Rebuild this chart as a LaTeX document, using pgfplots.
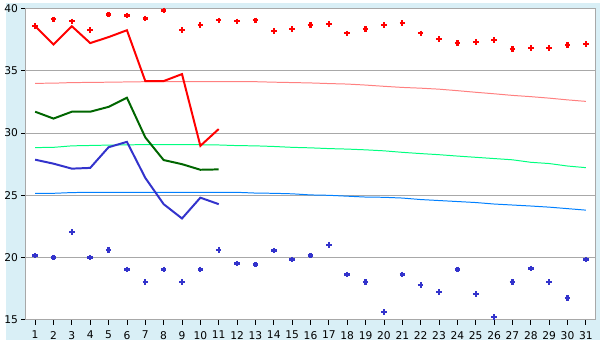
\documentclass[border=0pt]{standalone}
\usepackage{pgfplots}
\pgfplotsset{compat=1.18}
\usepackage{fontspec}
\setmainfont{DejaVu Sans}
\definecolor{bgc}{HTML}{D9EFF6}
\definecolor{axc}{HTML}{A8A8A8}
\definecolor{rmax}{HTML}{FF0000}
\definecolor{gmean}{HTML}{006600}
\definecolor{bmin}{HTML}{3333CC}
\definecolor{nmax}{HTML}{FF8080}
\definecolor{nmean}{HTML}{00FF80}
\definecolor{nmin}{HTML}{0080FF}
\begin{document}
\begin{tikzpicture}
\fill[bgc] (0,0) rectangle (450pt,255pt);
\begin{axis}[
  at={(15pt,15pt)}, anchor=south west,
  scale only axis, width=431.25pt, height=236pt,
  xmin=0.5, xmax=31.5, ymin=15, ymax=40,
  xtick={1,...,31}, ytick={15,20,...,40},
  axis background/.style={fill=white},
  axis line style={draw=axc, line width=0.75pt},
  ymajorgrids, major grid style={draw=axc, line width=0.75pt},
  tick align=outside, major tick length=3.5pt,
  every tick/.style={draw=black, line width=0.6pt},
  xtick pos=bottom, ytick pos=left,
  /pgf/number format/assume math mode=true,
  tick label style={font=\fontsize{8.1}{10}\selectfont},
  xticklabel style={yshift=-1.5pt},
  yticklabel style={xshift=1pt},
  clip=false,
]
% normal max
\addplot[nmax, line width=0.75pt] coordinates {
(1,33.99)(2,34.0)(3,34.05)(4,34.06)(5,34.08)(6,34.1)(7,34.12)(8,34.12)(9,34.12)(10,34.12)(11,34.12)(12,34.12)(13,34.12)(14,34.08)(15,34.05)(16,34.02)(17,33.97)(18,33.93)(19,33.85)(20,33.75)(21,33.66)(22,33.6)(23,33.52)(24,33.4)(25,33.27)(26,33.15)(27,33.02)(28,32.92)(29,32.8)(30,32.66)(31,32.54)};
% normal mean
\addplot[nmean, line width=0.75pt] coordinates {
(1,28.83)(2,28.85)(3,28.97)(4,29.0)(5,29.03)(6,29.05)(7,29.07)(8,29.07)(9,29.07)(10,29.06)(11,29.04)(12,28.99)(13,28.97)(14,28.92)(15,28.85)(16,28.81)(17,28.75)(18,28.71)(19,28.65)(20,28.57)(21,28.45)(22,28.35)(23,28.26)(24,28.15)(25,28.05)(26,27.95)(27,27.85)(28,27.65)(29,27.55)(30,27.35)(31,27.22)};
% normal min
\addplot[nmin, line width=0.75pt] coordinates {
(1,25.16)(2,25.16)(3,25.22)(4,25.24)(5,25.24)(6,25.24)(7,25.24)(8,25.24)(9,25.24)(10,25.24)(11,25.24)(12,25.24)(13,25.18)(14,25.16)(15,25.12)(16,25.03)(17,25.0)(18,24.93)(19,24.86)(20,24.84)(21,24.78)(22,24.66)(23,24.58)(24,24.5)(25,24.42)(26,24.3)(27,24.22)(28,24.14)(29,24.05)(30,23.93)(31,23.81)};
% current max
\addplot[rmax, line width=1.5pt] coordinates {
(1,38.57)(2,37.11)(3,38.57)(4,37.22)(5,37.7)(6,38.25)(7,34.17)(8,34.17)(9,34.73)(10,28.97)(11,30.32)};
% current mean
\addplot[gmean, line width=1.5pt] coordinates {
(1,31.71)(2,31.16)(3,31.71)(4,31.71)(5,32.1)(6,32.83)(7,29.65)(8,27.83)(9,27.5)(10,27.05)(11,27.08)};
% current min
\addplot[bmin, line width=1.5pt] coordinates {
(1,27.86)(2,27.54)(3,27.14)(4,27.2)(5,28.86)(6,29.29)(7,26.4)(8,24.29)(9,23.14)(10,24.81)(11,24.29)};
% record max
\addplot[only marks, mark=+, mark size=2.1pt, mark options={solid, line width=1.7pt, draw=rmax}] coordinates {
(1,38.57)(2,39.13)(3,38.97)(4,38.25)(5,39.52)(6,39.44)(7,39.2)(8,39.84)(9,38.25)(10,38.65)(11,39.05)(12,38.97)(13,39.05)(14,38.17)(15,38.33)(16,38.65)(17,38.73)(18,38.0)(19,38.33)(20,38.65)(21,38.81)(22,38.0)(23,37.54)(24,37.22)(25,37.3)(26,37.46)(27,36.75)(28,36.83)(29,36.83)(30,37.06)(31,37.14)};
% record min
\addplot[only marks, mark=+, mark size=2.1pt, mark options={solid, line width=1.7pt, draw=bmin}] coordinates {
(1,20.16)(2,20.0)(3,22.06)(4,20.0)(5,20.63)(6,19.05)(7,18.02)(8,19.05)(9,18.02)(10,19.05)(11,20.63)(12,19.52)(13,19.44)(14,20.56)(15,19.84)(16,20.16)(17,21.03)(18,18.65)(19,18.02)(20,15.63)(21,18.65)(22,17.78)(23,17.22)(24,19.05)(25,17.06)(26,15.24)(27,18.02)(28,19.13)(29,18.02)(30,16.75)(31,19.84)};
\end{axis}
\end{tikzpicture}
\end{document}
